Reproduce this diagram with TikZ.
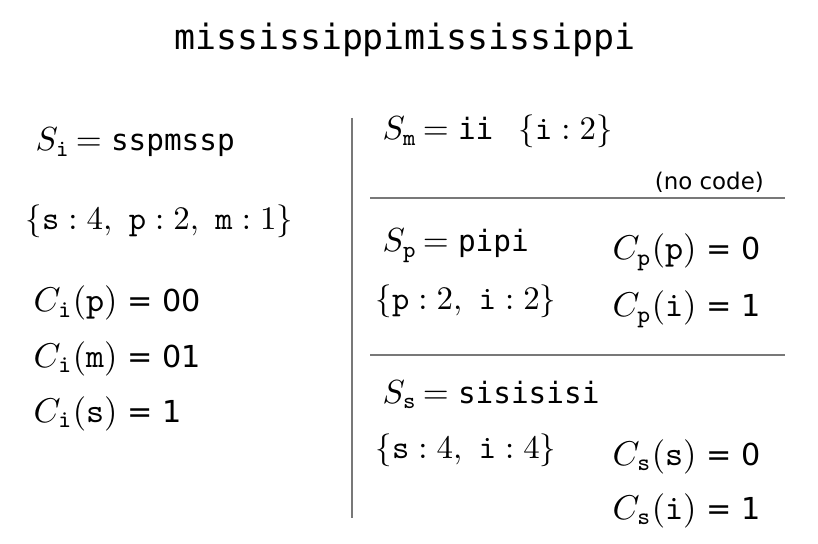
\documentclass[tikz,border=0pt]{standalone}
\usepackage{amsmath}
\usepackage[no-math]{fontspec}
\usetikzlibrary{positioning}
\newfontfamily\monofont{DejaVu Sans Mono}
\newfontfamily\digitfont{DejaVu Sans}
\definecolor{rulegray}{RGB}{120,120,120}
\tikzset{
  sheet/.style={x=1bp,y=-1bp},
  title/.style={font=\monofont\fontsize{35}{40}\selectfont,inner sep=0pt},
  seq/.style={anchor=base west,inner sep=0pt,scale=3.35},
  freq/.style={anchor=base west,inner sep=0pt,scale=3.3},
  code/.style={anchor=base west,inner sep=0pt,scale=3.45},
  note/.style={anchor=base east,inner sep=0pt,font=\digitfont\fontsize{23}{26}\selectfont},
  divider/.style={draw=rulegray,line width=1.2bp},
}
\newcommand{\mono}[1]{\text{\monofont\fontsize{8.8}{11}\selectfont #1}}
\newcommand{\codeval}[1]{{\digitfont\fontsize{8.8}{11}\selectfont\ = #1}}
\newcommand{\tts}[1]{\mathtt{#1}}
\newcommand{\seqeq}{\,{=}\;}
\begin{document}
\begin{tikzpicture}[sheet]
\useasboundingbox (0,0) rectangle (818,544);
% input string
\node[title] (input) at (405,40) {mississippimississippi};
% left column: split on i
\node[seq] (Si) at (35,151) {$S_{\tts{i}}\seqeq\mono{sspmssp}$};
\node[freq] (Fi) at (25,230) {$\{\tts{s}:4,\ \tts{p}:2,\ \tts{m}:1\}$};
\foreach \y/\c/\v in {312/p/00,367/m/01,422/s/1}
  \node[code] (Ci\c) at (33,\y) {$C_{\tts{i}}(\tts{\c})$\codeval{\v}};
% separators
\coordinate (vtop) at (352,118);
\coordinate (vbot) at (352,518);
\draw[divider] (vtop) -- (vbot);
\foreach \y/\n in {198/a,355/b} {
  \coordinate (h\n l) at (370,\y);
  \coordinate (h\n r) at (785,\y);
  \draw[divider] (h\n l) -- (h\n r);
}
% right column: m
\node[seq] (Sm) at (382,140) {$S_{\tts{m}}\seqeq\mono{ii}$};
\node[freq] (Fm) at (518,140) {$\{\tts{i}:2\}$};
\node[note] (nocode) at (764,190) {(no code)};
% right column: p
\node[seq] (Sp) at (382,252) {$S_{\tts{p}}\seqeq\mono{pipi}$};
\node[freq] (Fp) at (375,310) {$\{\tts{p}:2,\ \tts{i}:2\}$};
\node[code] (Cpp) at (612,260) {$C_{\tts{p}}(\tts{p})$\codeval{0}};
\node[code] (Cpi) at (612,317) {$C_{\tts{p}}(\tts{i})$\codeval{1}};
% right column: s
\node[seq] (Ss) at (382,403) {$S_{\tts{s}}\seqeq\mono{sisisisi}$};
\node[freq] (Fs) at (375,458) {$\{\tts{s}:4,\ \tts{i}:4\}$};
\node[code] (Css) at (612,465) {$C_{\tts{s}}(\tts{s})$\codeval{0}};
\node[code] (Csi) at (612,519) {$C_{\tts{s}}(\tts{i})$\codeval{1}};
\end{tikzpicture}
\end{document}
